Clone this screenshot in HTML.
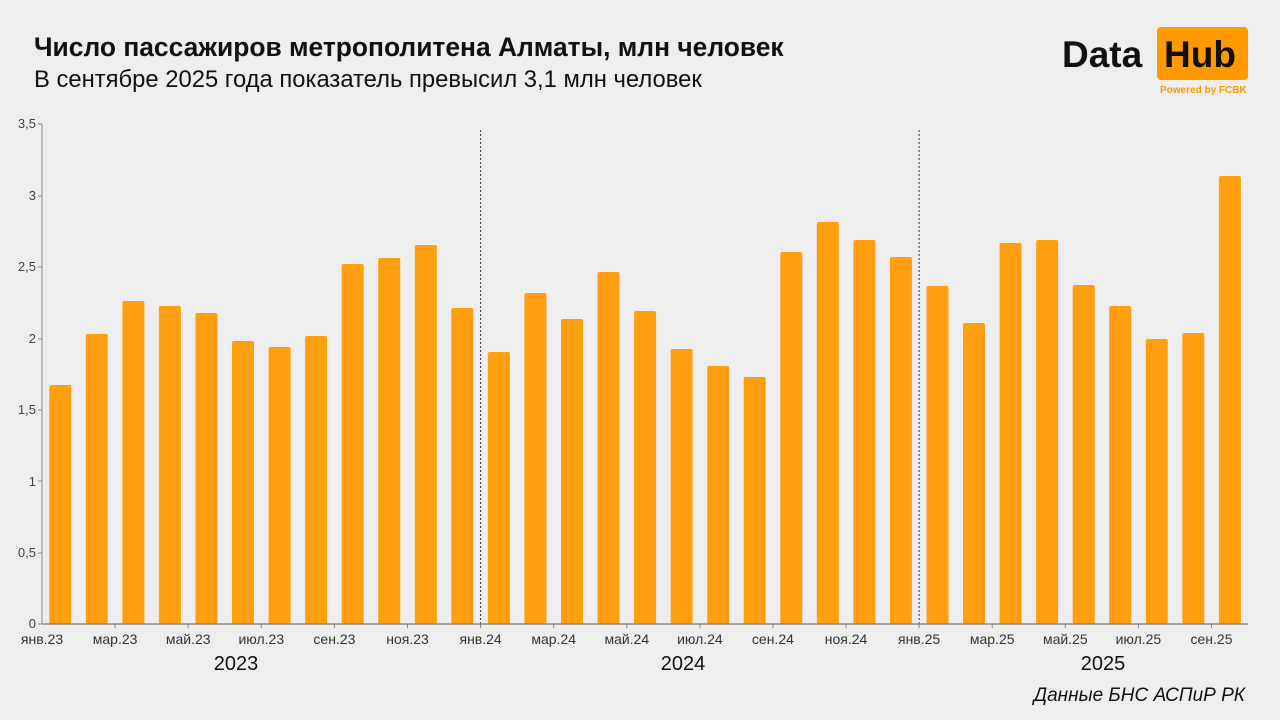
<!DOCTYPE html>
<html><head><meta charset="utf-8"><style>
body{margin:0;background:#eeeeee;}
svg{display:block;font-family:"Liberation Sans",sans-serif;}
</style></head><body>
<svg width="1280" height="720" viewBox="0 0 1280 720">
<rect width="1280" height="720" fill="#eeeeee"/>
<text x="34" y="56" font-size="26.4" font-weight="bold" fill="#111">Число пассажиров метрополитена Алматы, млн человек</text>
<text x="34" y="87" font-size="23.8" fill="#111">В сентябре 2025 года показатель превысил 3,1 млн человек</text>
<text x="1062" y="67" font-size="37" font-weight="bold" fill="#111">Data</text>
<rect x="1157" y="27" width="91" height="53" rx="4" fill="#ff9900"/>
<text x="1164" y="67" font-size="37" font-weight="bold" fill="#111">Hub</text>
<text x="1160" y="93" font-size="10" font-weight="bold" fill="#ff9900">Powered by FCBK</text>
<g font-size="13" fill="#444" text-anchor="end">
<text x="36" y="628">0</text><text x="36" y="557">0,5</text><text x="36" y="486">1</text><text x="36" y="414">1,5</text><text x="36" y="343">2</text><text x="36" y="271">2,5</text><text x="36" y="200">3</text><text x="36" y="128">3,5</text>
</g>
<g stroke="#888" stroke-width="1">
<line x1="42" y1="124" x2="42" y2="624"/>
<line x1="38" y1="624" x2="42" y2="624"/><line x1="38" y1="553" x2="42" y2="553"/><line x1="38" y1="481" x2="42" y2="481"/><line x1="38" y1="410" x2="42" y2="410"/><line x1="38" y1="339" x2="42" y2="339"/><line x1="38" y1="267" x2="42" y2="267"/><line x1="38" y1="196" x2="42" y2="196"/><line x1="38" y1="124" x2="42" y2="124"/>
</g>
<g fill="#ff9e0f">
<rect x="49.3" y="385" width="22" height="239" rx="2"/>
<rect x="85.8" y="334" width="22" height="290" rx="2"/>
<rect x="122.4" y="301" width="22" height="323" rx="2"/>
<rect x="158.9" y="306" width="22" height="318" rx="2"/>
<rect x="195.5" y="313" width="22" height="311" rx="2"/>
<rect x="232.0" y="341" width="22" height="283" rx="2"/>
<rect x="268.6" y="347" width="22" height="277" rx="2"/>
<rect x="305.1" y="336" width="22" height="288" rx="2"/>
<rect x="341.7" y="264" width="22" height="360" rx="2"/>
<rect x="378.2" y="258" width="22" height="366" rx="2"/>
<rect x="414.8" y="245" width="22" height="379" rx="2"/>
<rect x="451.3" y="308" width="22" height="316" rx="2"/>
<rect x="487.9" y="352" width="22" height="272" rx="2"/>
<rect x="524.4" y="293" width="22" height="331" rx="2"/>
<rect x="561.0" y="319" width="22" height="305" rx="2"/>
<rect x="597.5" y="272" width="22" height="352" rx="2"/>
<rect x="634.1" y="311" width="22" height="313" rx="2"/>
<rect x="670.6" y="349" width="22" height="275" rx="2"/>
<rect x="707.2" y="366" width="22" height="258" rx="2"/>
<rect x="743.7" y="377" width="22" height="247" rx="2"/>
<rect x="780.3" y="252" width="22" height="372" rx="2"/>
<rect x="816.8" y="222" width="22" height="402" rx="2"/>
<rect x="853.4" y="240" width="22" height="384" rx="2"/>
<rect x="889.9" y="257" width="22" height="367" rx="2"/>
<rect x="926.5" y="286" width="22" height="338" rx="2"/>
<rect x="963.0" y="323" width="22" height="301" rx="2"/>
<rect x="999.6" y="243" width="22" height="381" rx="2"/>
<rect x="1036.1" y="240" width="22" height="384" rx="2"/>
<rect x="1072.7" y="285" width="22" height="339" rx="2"/>
<rect x="1109.2" y="306" width="22" height="318" rx="2"/>
<rect x="1145.8" y="339" width="22" height="285" rx="2"/>
<rect x="1182.3" y="333" width="22" height="291" rx="2"/>
<rect x="1218.9" y="176" width="22" height="448" rx="2"/>
</g>
<g stroke="#333" stroke-width="1" stroke-dasharray="2,2">
<line x1="480.6" y1="130" x2="480.6" y2="624"/>
<line x1="919.1" y1="130" x2="919.1" y2="624"/>
</g>
<line x1="42" y1="624" x2="1248" y2="624" stroke="#888" stroke-width="1.5"/>
<g stroke="#888" stroke-width="1">
<line x1="115.1" y1="624" x2="115.1" y2="628"/><line x1="188.2" y1="624" x2="188.2" y2="628"/><line x1="261.3" y1="624" x2="261.3" y2="628"/><line x1="334.4" y1="624" x2="334.4" y2="628"/><line x1="407.5" y1="624" x2="407.5" y2="628"/><line x1="480.6" y1="624" x2="480.6" y2="628"/><line x1="553.7" y1="624" x2="553.7" y2="628"/><line x1="626.8" y1="624" x2="626.8" y2="628"/><line x1="699.9" y1="624" x2="699.9" y2="628"/><line x1="772.9" y1="624" x2="772.9" y2="628"/><line x1="846" y1="624" x2="846" y2="628"/><line x1="919.1" y1="624" x2="919.1" y2="628"/><line x1="992.2" y1="624" x2="992.2" y2="628"/><line x1="1065.3" y1="624" x2="1065.3" y2="628"/><line x1="1138.4" y1="624" x2="1138.4" y2="628"/><line x1="1211.5" y1="624" x2="1211.5" y2="628"/>
</g>
<g font-size="14" fill="#333" text-anchor="middle">
<text x="42" y="644">янв.23</text><text x="115.1" y="644">мар.23</text><text x="188.2" y="644">май.23</text><text x="261.3" y="644">июл.23</text><text x="334.4" y="644">сен.23</text><text x="407.5" y="644">ноя.23</text><text x="480.6" y="644">янв.24</text><text x="553.7" y="644">мар.24</text><text x="626.8" y="644">май.24</text><text x="699.9" y="644">июл.24</text><text x="772.9" y="644">сен.24</text><text x="846" y="644">ноя.24</text><text x="919.1" y="644">янв.25</text><text x="992.2" y="644">мар.25</text><text x="1065.3" y="644">май.25</text><text x="1138.4" y="644">июл.25</text><text x="1211.5" y="644">сен.25</text>
</g>
<g font-size="20" fill="#111" text-anchor="middle">
<text x="236" y="670">2023</text><text x="683" y="670">2024</text><text x="1103" y="670">2025</text>
</g>
<text x="1245" y="701" font-size="19" font-style="italic" fill="#111" text-anchor="end">Данные БНС АСПиР РК</text>
</svg>
</body></html>
